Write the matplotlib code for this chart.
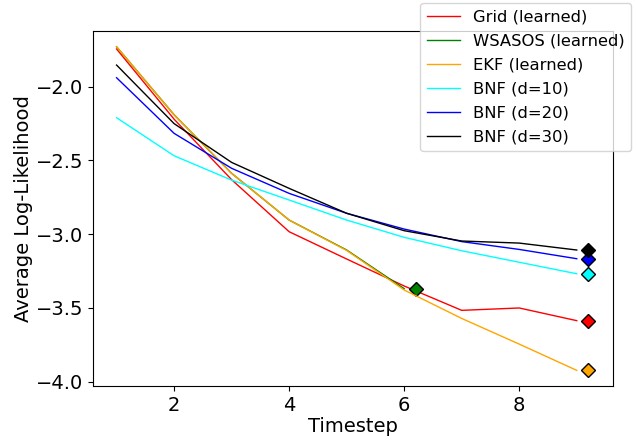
import numpy as np
import matplotlib
matplotlib.use("Agg")
import matplotlib.pyplot as plt

# timesteps and average log-likelihood per method
timesteps = [1, 2, 3, 4, 5, 6, 7, 8, 9]
grid = [-1.744, -2.22, -2.63, -2.983, -3.168, -3.351, -3.516, -3.50, -3.586]
wsasos = [-1.729, -2.19, -2.587, -2.904, -3.107, -3.369]
ekf = [-1.729, -2.19, -2.587, -2.904, -3.11, -3.378, -3.571, -3.745, -3.923]
bnf10 = [-2.21, -2.468, -2.633, -2.768, -2.904, -3.021, -3.112, -3.19, -3.268]
bnf20 = [-1.939, -2.316, -2.553, -2.723, -2.858, -2.965, -3.05, -3.103, -3.166]
bnf30 = [-1.853, -2.25, -2.513, -2.689, -2.858, -2.976, -3.046, -3.06, -3.107]

series = [
    ("Grid (learned)", grid, "red"),
    ("WSASOS (learned)", wsasos, "green"),
    ("EKF (learned)", ekf, "orange"),
    ("BNF (d=10)", bnf10, "cyan"),
    ("BNF (d=20)", bnf20, "blue"),
    ("BNF (d=30)", bnf30, "black"),
]

plt.rcParams["font.size"] = 14

fig = plt.figure(figsize=(6.37, 4.41), dpi=100)
ax = fig.add_axes([93 / 637, 55 / 441, 520 / 637, 355 / 441])

for label, vals, col in series:
    t = timesteps[:len(vals)]
    ax.plot(t, vals, color=col, lw=1.0, label=label)
    # final value marked slightly right of the last step
    ax.plot(t[-1] + 0.2, vals[-1], marker="D", color=col, markeredgecolor="black",
            markersize=7, linestyle="none")

ax.set_xlim(0.59, 9.63)
ax.set_ylim(-4.029, -1.622)
ax.set_xticks([2, 4, 6, 8])
ax.set_yticks([-2.0, -2.5, -3.0, -3.5, -4.0])
ax.set_xlabel("Timestep", labelpad=2)
ax.set_ylabel("Average Log-Likelihood", labelpad=2)

fig.legend(loc="upper right", bbox_to_anchor=(631 / 637, 1 - 3 / 441),
           borderaxespad=0, fontsize=11.8, labelspacing=0.55, borderpad=0.4)

fig.savefig("out.png", dpi=100)
